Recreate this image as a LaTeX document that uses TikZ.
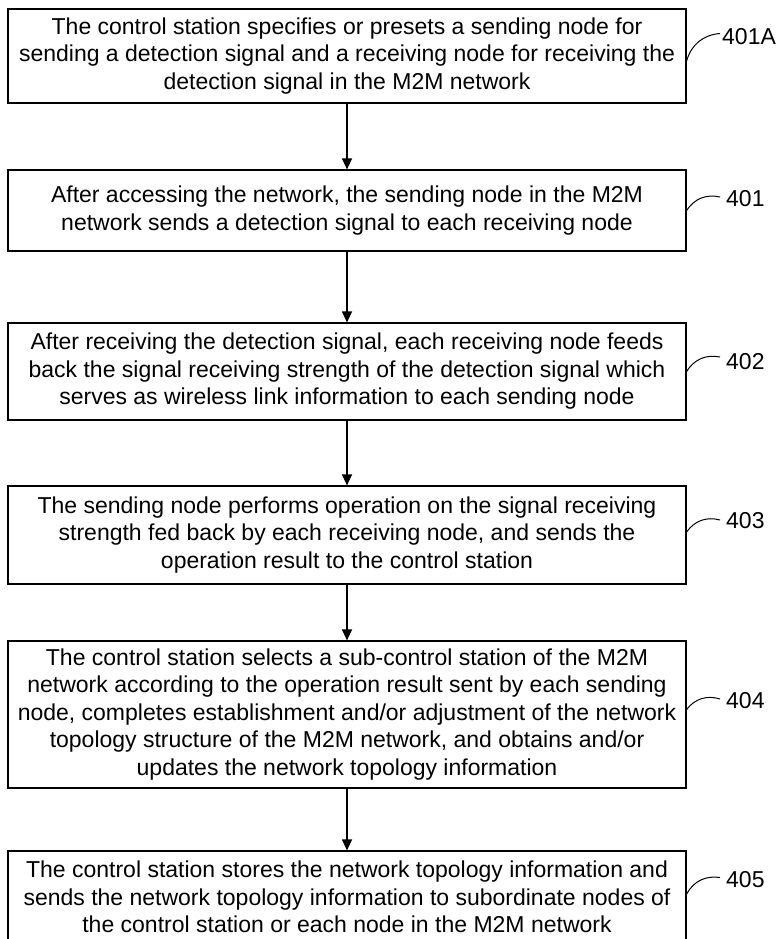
\documentclass[tikz,border=0pt]{standalone}
\usepackage{fontspec}
\setmainfont{Liberation Sans}
\usetikzlibrary{arrows.meta}
\begin{document}
\begin{tikzpicture}[x=1pt,y=-1pt,
  box/.style={draw,line width=1.2pt,minimum width=678pt,inner sep=0pt,align=center,font=\fontsize{23}{27.5}\selectfont},
  tag/.style={anchor=west,inner sep=0pt,font=\fontsize{23}{27.5}\selectfont},
  flow/.style={-{Triangle[width=10pt,length=11pt]},line width=1.2pt},
  leader/.style={line width=1pt,bend left=35}]
\useasboundingbox (0,0) rectangle (776,939);
\clip (0,0) rectangle (776,939);

\node [box,minimum height=94pt] (0) at (347,56) {The control station specifies or presets a sending node for\\sending a detection signal and a receiving node for receiving the\\detection signal in the M2M network};
\node [box,minimum height=81pt] (1) at (347,210.5) {After accessing the network, the sending node in the M2M\\network sends a detection signal to each receiving node};
\node [box,minimum height=97pt] (2) at (347,371.5) {After receiving the detection signal, each receiving node feeds\\back the signal receiving strength of the detection signal which\\serves as wireless link information to each sending node};
\node [box,minimum height=98pt] (3) at (347,535) {The sending node performs operation on the signal receiving\\strength fed back by each receiving node, and sends the\\operation result to the control station};
\node [box,minimum height=147pt] (4) at (347,714.5) {The control station selects a sub-control station of the M2M\\network according to the operation result sent by each sending\\node, completes establishment and/or adjustment of the network\\topology structure of the M2M network, and obtains and/or\\updates the network topology information};
\node [box,minimum height=92pt] (5) at (347,897) {The control station stores the network topology information and\\sends the network topology information to subordinate nodes of\\the control station or each node in the M2M network};

\node [tag] (6) at (722,36.5) {401A};
\node [tag] (7) at (726,199) {401};
\node [tag] (8) at (726,362) {402};
\node [tag] (9) at (726,521) {403};
\node [tag] (10) at (726,701) {404};
\node [tag] (11) at (726,879.5) {405};

\draw [flow] (0) -- (1);
\draw [flow] (1) -- (2);
\draw [flow] (2) -- (3);
\draw [flow] (3) -- (4);
\draw [flow] (4) -- (5);

\draw [leader] ([yshift=-5pt]0.east) to ([shift={(-2pt,3pt)}]6.west);
\draw [leader] (1.east) to ([shift={(-6pt,2pt)}]7.west);
\draw [leader] (2.east) to ([shift={(-6pt,5pt)}]8.west);
\draw [leader] ([yshift=3pt]3.east) to ([shift={(-6pt,1pt)}]9.west);
\draw [leader] ([yshift=5pt]4.east) to ([shift={(-6pt,2pt)}]10.west);
\draw [leader] ([yshift=3pt]5.east) to ([shift={(-6pt,2pt)}]11.west);
\end{tikzpicture}
\end{document}
